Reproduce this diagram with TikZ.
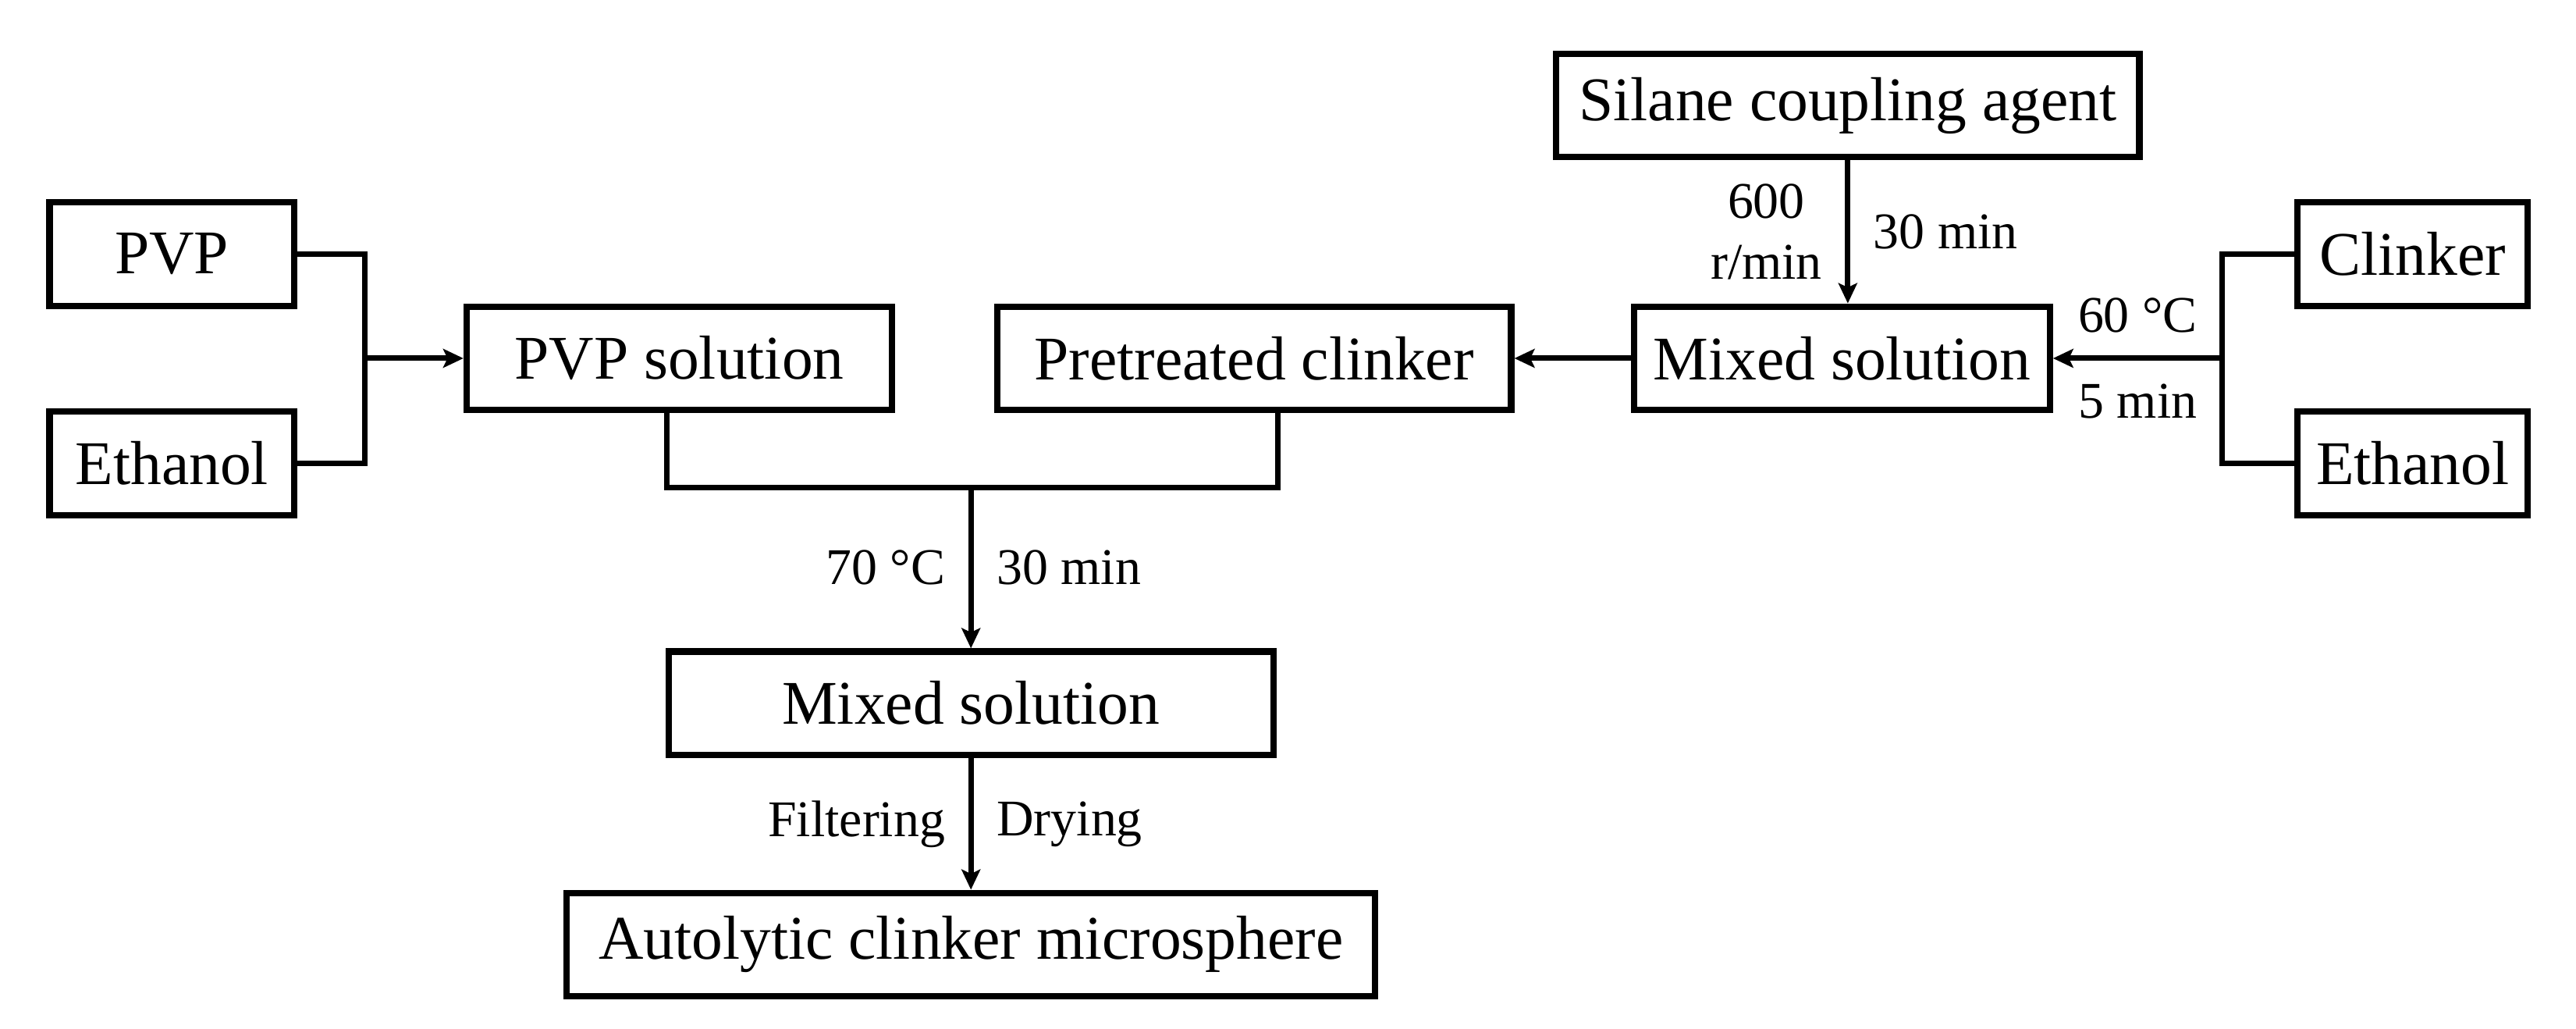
\documentclass[tikz,border=0pt]{standalone}
\usepackage{fontspec}
\setmainfont{Liberation Serif}
\usetikzlibrary{shapes,arrows.meta,positioning}

\begin{document}
\begin{tikzpicture}[
  node distance=8mm,
  box/.style={rectangle, draw, line width=2.2pt, minimum height=1.26cm, inner sep=3pt, font=\fontsize{21.5}{25}\selectfont},
  link/.style={line width=1.9pt},
  flow/.style={-{Stealth[length=7pt,width=6.5pt,inset=1.5pt]}, line width=1.9pt},
  note/.style={font=\fontsize{17.8}{21}\selectfont, inner sep=8pt},
]
\useasboundingbox (0,0) rectangle (31.36,-12.52);
\node[box, minimum width=5.18cm] (pvpsol) at (8.27,-4.36) {PVP solution};
\node[box, minimum width=6.26cm, right=1.2cm of pvpsol] (pretr) {Pretreated clinker};
\node[box, minimum width=5.06cm, right=1.42cm of pretr] (mixtop) {Mixed solution};
\node[box, minimum width=7.1cm, above=1.74cm of mixtop, xshift=0.07cm] (silane) {Silane coupling agent};
\node[box, minimum width=2.98cm, left=2.02cm of pvpsol, yshift=1.27cm] (pvp) {PVP};
\node[box, minimum width=2.98cm, left=2.02cm of pvpsol, yshift=-1.28cm] (ethl) {Ethanol};
\node[box, minimum width=2.8cm, right=2.94cm of mixtop, yshift=1.27cm] (clink) {Clinker};
\node[box, minimum width=2.8cm, right=2.94cm of mixtop, yshift=-1.28cm] (ethr) {Ethanol};
\coordinate[below=0.9cm of pvpsol.south] (join);
\node[box, minimum width=7.36cm, below=1.96cm of join, xshift=3.55cm] (mixbot) {Mixed solution};
\node[box, minimum width=9.84cm, below=1.6cm of mixbot] (autoly) {Autolytic clinker microsphere};

\draw[link] (pvp.east) -- ++(0.82,0) coordinate (lk) |- (ethl.east);
\draw[flow] (lk |- pvpsol.west) -- (pvpsol.west);
\draw[link] ([xshift=-0.15cm]pvpsol.south) -- ([xshift=-0.15cm]join) -| ([xshift=0.29cm]pretr.south);
\draw[flow] (join -| mixbot.north) -- (mixbot.north)
  node[note, midway, left] {70 °C} node[note, midway, right] {30 min};
\draw[flow] (mixbot.south) -- (autoly.north)
  node[note, midway, left] {Filtering} node[note, midway, right] {Drying};
\draw[flow] (silane.south) -- (silane.south |- mixtop.north)
  node[note, midway, left, align=center] {600\\r/min} node[note, midway, right] {30 min};
\draw[flow] (mixtop.west) -- (pretr.east);
\draw[link] (clink.west) -- ++(-0.88,0) coordinate (rk) |- (ethr.west);
\draw[flow] (rk |- mixtop.east) -- (mixtop.east)
  node[note, midway, above] {60 °C} node[note, midway, below] {5 min};
\end{tikzpicture}
\end{document}
